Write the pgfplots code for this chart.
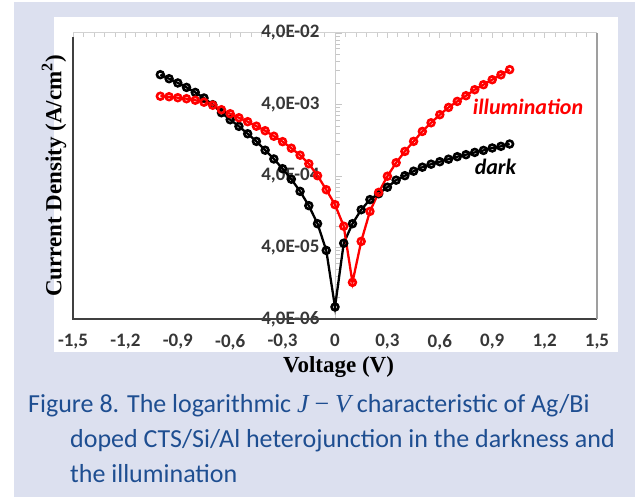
\documentclass[border=0pt]{standalone}
\usepackage{fontspec}
\setmainfont{Carlito}
\newfontfamily\tnr{Liberation Serif}
\usepackage{pgfplots}
\pgfplotsset{compat=1.18}
\definecolor{bgblue}{RGB}{220,224,239}
\definecolor{capblue}{RGB}{30,78,145}
\definecolor{tickgray}{RGB}{55,55,55}
\definecolor{ired}{RGB}{255,0,0}

\pgfplotstableread{
x y
-1.00 1.045e-2
-0.95 9.18e-3
-0.90 8.00e-3
-0.85 6.94e-3
-0.80 5.90e-3
-0.75 4.93e-3
-0.70 3.97e-3
-0.65 3.07e-3
-0.60 2.45e-3
-0.55 1.98e-3
-0.50 1.56e-3
-0.45 1.22e-3
-0.40 9.18e-4
-0.35 6.92e-4
-0.30 5.06e-4
-0.25 3.61e-4
-0.20 2.44e-4
-0.15 1.54e-4
-0.10 8.61e-5
-0.05 3.64e-5
0.00 5.89e-6
0.05 4.59e-5
0.10 8.61e-5
0.15 1.35e-4
0.20 1.87e-4
0.25 2.26e-4
0.30 2.79e-4
0.35 3.50e-4
0.40 4.04e-4
0.45 4.67e-4
0.50 5.31e-4
0.55 5.85e-4
0.60 6.34e-4
0.65 6.87e-4
0.70 7.45e-4
0.75 7.95e-4
0.80 8.55e-4
0.85 9.12e-4
0.90 9.86e-4
0.95 1.04e-3
1.00 1.12e-3
}\darktable

\pgfplotstableread{
x y
-1.00 5.22e-3
-0.95 5.14e-3
-0.90 4.98e-3
-0.85 4.82e-3
-0.80 4.59e-3
-0.75 4.31e-3
-0.70 3.91e-3
-0.65 3.38e-3
-0.60 2.97e-3
-0.55 2.61e-3
-0.50 2.30e-3
-0.45 1.99e-3
-0.40 1.72e-3
-0.35 1.44e-3
-0.30 1.21e-3
-0.25 9.79e-4
-0.20 7.82e-4
-0.15 5.94e-4
-0.10 4.04e-4
-0.05 2.57e-4
0.00 1.59e-4
0.05 7.94e-5
0.10 1.30e-5
0.15 4.87e-5
0.20 1.28e-4
0.25 2.36e-4
0.30 3.97e-4
0.35 6.14e-4
0.40 8.83e-4
0.45 1.22e-3
0.50 1.68e-3
0.55 2.22e-3
0.60 2.88e-3
0.65 3.64e-3
0.70 4.42e-3
0.75 5.31e-3
0.80 6.44e-3
0.85 7.57e-3
0.90 8.89e-3
0.95 1.04e-2
1.00 1.23e-2
}\illumtable

\begin{document}
\begin{tikzpicture}[x=1pt,y=1pt]
\path[use as bounding box] (0,0) rectangle (635,497);
\fill[white] (0,0) rectangle (635,497);
\fill[bgblue] (14,0) rectangle (635,495);
\fill[white] (54,145) rectangle (618,480);

% top border with minor ticks
\begin{axis}[at={(73pt,178pt)}, anchor=south west, scale only axis,
  width=524pt, height=286pt, xmin=-1.5, xmax=1.5, ymin=0, ymax=1,
  axis x line*=top, axis y line=none,
  xtick={-1.5,-1.2,-0.9,-0.6,-0.3,0,0.3,0.6,0.9,1.2,1.5},
  minor x tick num=4, xticklabels={},
  x axis line style={-, draw=gray!35, line width=1pt},
  x tick style={draw=gray!40, line width=0.8pt},
  tick align=inside, major tick length=5pt, minor tick length=4pt]
\end{axis}

\begin{axis}[at={(73pt,178pt)}, anchor=south west, scale only axis,
  width=524pt, height=286pt,
  xmin=-1.5, xmax=1.5, ymode=log, ymin=4e-6, ymax=4e-2,
  axis x line*=bottom, axis y line*=middle,
  hide obscured x ticks=false, hide obscured y ticks=false,
  x axis line style={draw=none},
  y axis line style={-, draw=gray!40, line width=1pt},
  xtick={-1.5,-1.2,-0.9,-0.6,-0.3,0,0.3,0.6,0.9,1.2,1.5},
  xticklabels={{\textbf{-1,5}},{\textbf{-1,2}},{\textbf{-0,9}},{\textbf{-0,6}},{\textbf{-0,3}},{\textbf{0}},{\textbf{0,3}},{\textbf{0,6}},{\textbf{0,9}},{\textbf{1,2}},{\textbf{1,5}}},
  x tick style={draw=none},
  ytick={4e-6,4e-5,4e-4,4e-3,4e-2},
  yticklabels={{\textbf{4,0E-06}},{\textbf{4,0E-05}},{\textbf{4,0E-04}},{\textbf{4,0E-03}},{\textbf{4,0E-02}}},
  minor ytick={8e-6,1.2e-5,1.6e-5,2e-5,2.4e-5,2.8e-5,3.2e-5,3.6e-5,
               8e-5,1.2e-4,1.6e-4,2e-4,2.4e-4,2.8e-4,3.2e-4,3.6e-4,
               8e-4,1.2e-3,1.6e-3,2e-3,2.4e-3,2.8e-3,3.2e-3,3.6e-3,
               8e-3,1.2e-2,1.6e-2,2e-2,2.4e-2,2.8e-2,3.2e-2,3.6e-2},
  y tick style={draw=gray!45, line width=0.8pt},
  tick align=inside,
  major tick length=7pt, minor tick length=5pt,
  tick label style={font=\fontsize{19}{19}\selectfont, text=tickgray},
  xticklabel style={yshift=-12pt},
  yticklabel style={xshift=-12pt},
  clip=false,
]
\draw[black!75, line width=1.6pt] (rel axis cs:0,0.985) -- (rel axis cs:0,0) -- (rel axis cs:1,0);
\draw[gray!75, line width=1.2pt] (rel axis cs:1,0) -- (rel axis cs:1,1);

\addplot[black, line width=2.3pt, mark=o, mark size=3.4pt,
  mark options={solid, fill=white, line width=2.6pt}] table[x=x,y=y] {\darktable};
\addplot[ired, line width=2.3pt, mark=o, mark size=3.4pt,
  mark options={solid, fill=white, line width=2.6pt}] table[x=x,y=y] {\illumtable};

\node[text=ired, font=\fontsize{22}{22}\selectfont\bfseries\itshape] at (axis cs:1.105,3.72e-3) {illumination};
\node[text=black, font=\fontsize{22}{22}\selectfont\bfseries\itshape] at (axis cs:0.919,5.4e-4) {dark};
\end{axis}

\node[rotate=90, font=\fontsize{23}{23}\selectfont\tnr\bfseries] at (54,321) {Current Density (A/cm\textsuperscript{2})};
\node[font=\fontsize{23}{23}\selectfont\tnr\bfseries] at (338.5,130) {Voltage (V)};

\node[anchor=base west, inner sep=0, text=capblue, font=\fontsize{26}{31}\selectfont] at (28,84)
  {Figure 8. The logarithmic {\tnr\itshape J} {\tnr −} {\tnr\itshape V} characteristic of Ag/Bi};
\node[anchor=base west, inner sep=0, text=capblue, font=\fontsize{26}{31}\selectfont] at (70,49)
  {doped CTS/Si/Al heterojunction in the darkness and};
\node[anchor=base west, inner sep=0, text=capblue, font=\fontsize{26}{31}\selectfont] at (70,14)
  {the illumination};
\end{tikzpicture}
\end{document}
